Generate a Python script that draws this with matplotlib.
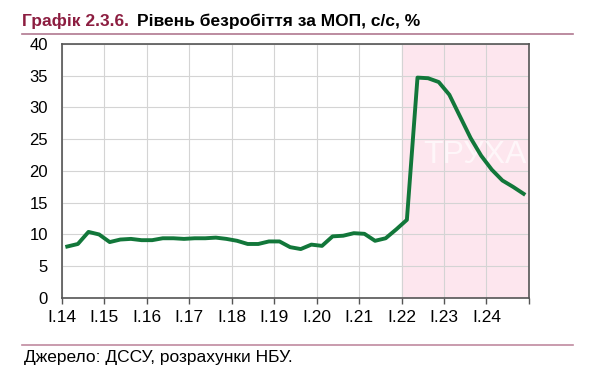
import numpy as np
import matplotlib.pyplot as plt
from matplotlib.lines import Line2D

plt.rcParams['font.family'] = ['Liberation Sans', 'DejaVu Sans']

# quarterly ILO unemployment rate, s.a., 2014Q1 .. 2024Q4
years = list(range(2014, 2025))
tick_labels = ['I.%d' % (y % 100) for y in years]
unemployment = [8.1, 8.5, 10.4, 10.0,
                8.8, 9.2, 9.3, 9.1,
                9.1, 9.4, 9.4, 9.3,
                9.4, 9.4, 9.5, 9.3,
                9.0, 8.5, 8.5, 8.9,
                8.9, 8.0, 7.7, 8.4,
                8.2, 9.7, 9.8, 10.2,
                10.1, 9.0, 9.4, 10.8,
                12.3, 34.7, 34.6, 34.0,
                32.0, 28.6, 25.2, 22.4,
                20.2, 18.5, 17.5, 16.4]
shade_from = 2022

green = '#12773a'
maroon = '#8c1d40'

fig = plt.figure(figsize=(5.9, 3.82), dpi=100)
ax = fig.add_axes([0.105, 0.22, 0.7915, 0.665])

n = len(unemployment)
x = np.arange(n) + 0.5
ax.axvspan((shade_from - years[0]) * 4, n, color='#fde6ee', zorder=0)
ax.plot(x, unemployment, color=green, lw=2.8, solid_joinstyle='round', zorder=3)

ax.set_xlim(0, n)
ax.set_ylim(0, 40)
ax.set_xticks(np.arange(0, n + 1, 4))
ax.set_xticklabels(tick_labels + [''])
ax.set_yticks(np.arange(0, 41, 5))
ax.grid(True, color='#d4d4d4', lw=0.8)
ax.set_axisbelow(True)
for s in ax.spines.values():
    s.set_color('#555555')
    s.set_linewidth(1.2)
ax.tick_params(axis='x', length=4, width=1, color='#555555', labelsize=12.5, pad=5)
ax.tick_params(axis='y', length=0, labelsize=12, pad=10)

ax.text(0.884, 0.563, 'ТРУХА', transform=ax.transAxes, color='white', alpha=0.65,
        fontsize=23, ha='center', va='center', zorder=2)

# title and footer
fig.text(0.037, 0.945, 'Графік 2.3.6.', color=maroon, fontsize=12.5, fontweight='bold', va='center')
fig.text(0.232, 0.945, 'Рівень безробіття за МОП, с/с, %', color='black', fontsize=12.5,
         fontweight='bold', va='center')
fig.add_artist(Line2D([0.037, 0.972], [0.912, 0.912], color='#b07890', lw=1.2))
fig.add_artist(Line2D([0.037, 0.972], [0.098, 0.098], color='#c08aa0', lw=1.2))
fig.text(0.04, 0.063, 'Джерело: ДССУ, розрахунки НБУ.', fontsize=12.5, va='center')

fig.savefig('out.png', dpi=100)
